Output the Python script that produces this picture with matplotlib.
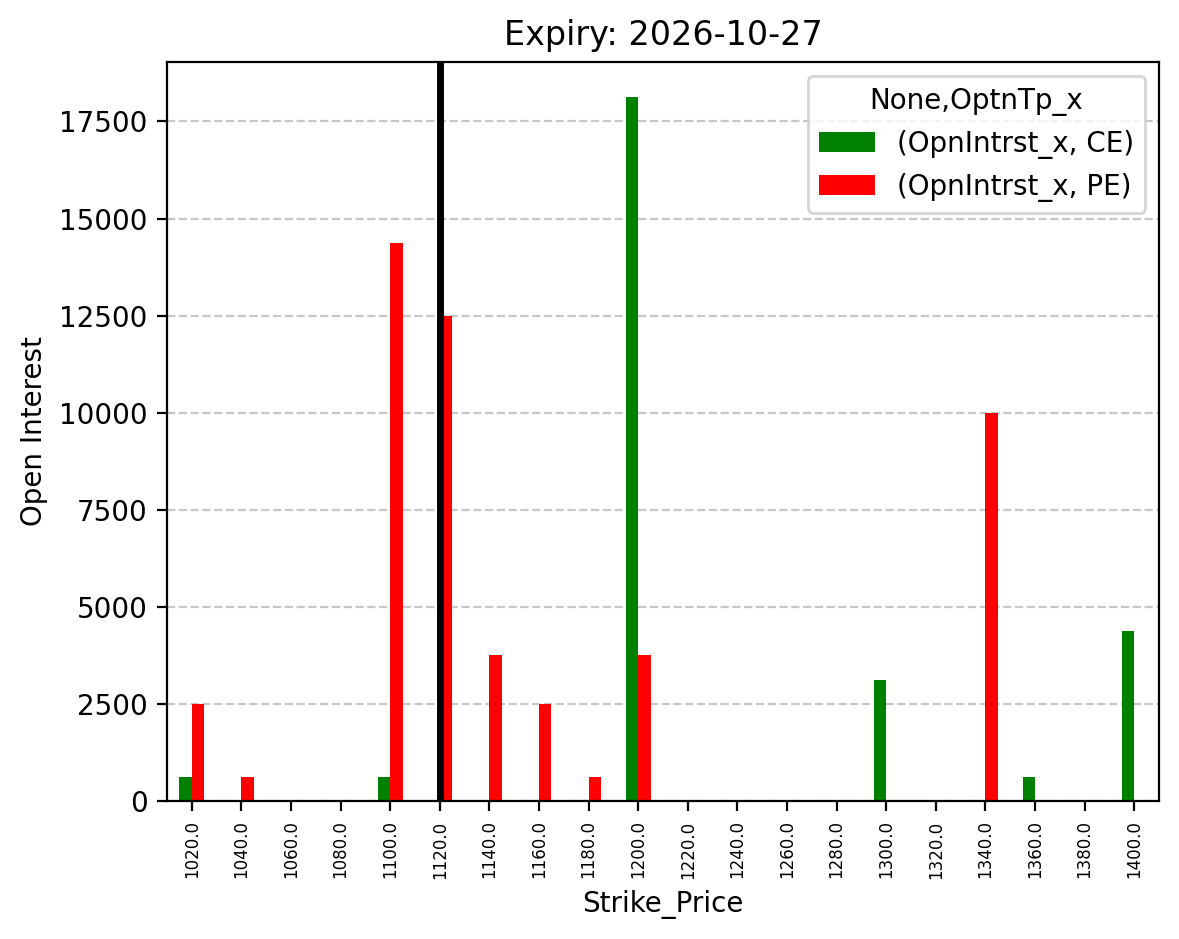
import numpy as np
import pandas as pd
import matplotlib
matplotlib.use("Agg")
import matplotlib.pyplot as plt

strikes = [1020.0, 1040.0, 1060.0, 1080.0, 1100.0, 1120.0, 1140.0, 1160.0, 1180.0, 1200.0,
           1220.0, 1240.0, 1260.0, 1280.0, 1300.0, 1320.0, 1340.0, 1360.0, 1380.0, 1400.0]
ce_oi = [625, 0, 0, 0, 625, 0, 0, 0, 0, 18125, 0, 0, 0, 0, 3125, 0, 0, 625, 0, 4375]
pe_oi = [2500, 625, 0, 0, 14375, 12500, 3750, 2500, 625, 3750, 0, 0, 0, 0, 0, 0, 10000, 0, 0, 0]
spot_strike = 1120.0
expiry = "2026-10-27"

cols = pd.MultiIndex.from_tuples([("OpnIntrst_x", "CE"), ("OpnIntrst_x", "PE")],
                                 names=[None, "OptnTp_x"])
df = pd.DataFrame(np.column_stack([ce_oi, pe_oi]), index=pd.Index(strikes, name="Strike_Price"),
                  columns=cols)

fig = plt.figure(figsize=(1179 / 200, 939 / 200), dpi=200)
ax = fig.add_axes([0.1416, 0.147, 0.8414, 0.787])
df.plot(kind="bar", ax=ax, color=["green", "red"])
ax.axvline(strikes.index(spot_strike), color="black", linewidth=2.5)
ax.set_title("Expiry: " + expiry)
ax.set_ylabel("Open Interest")
ax.tick_params(axis="x", labelsize=6)
ax.grid(axis="y", linestyle="--", alpha=0.7)
ax.set_axisbelow(True)
fig.savefig("out.png", dpi=200)
